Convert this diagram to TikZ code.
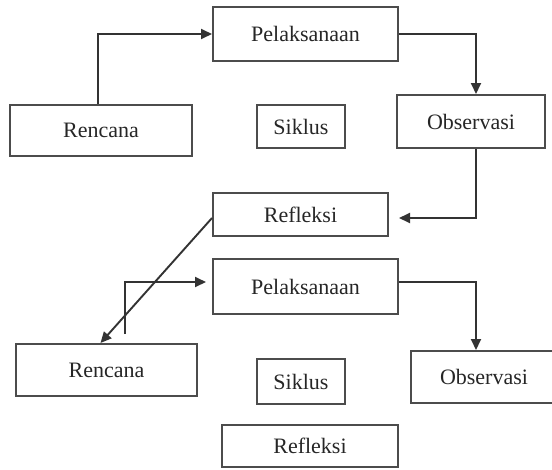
\documentclass[tikz,border=0pt]{standalone}
\usepackage{fontspec}
\setmainfont{Liberation Serif}
\usetikzlibrary{arrows.meta}
\begin{document}
\begin{tikzpicture}[x=1pt,y=-1pt,
  box/.style={draw=black!70, line width=2pt, inner sep=0pt, text=black!85,
    font=\fontsize{22}{25}\selectfont},
  arr/.style={draw=black!80, line width=1.9pt, -{Triangle[length=11pt,width=10pt]}}]
\useasboundingbox (0,0) rectangle (552,469);
\node[box, minimum width=185pt, minimum height=54pt] (p1) at (305.5,34) {Pelaksanaan};
\node[box, minimum width=182pt, minimum height=51pt] (r1) at (101,130.5) {Rencana};
\node[box, minimum width=88pt, minimum height=43pt] (s1) at (301,126.5) {Siklus};
\node[box, minimum width=148pt, minimum height=53pt] (o1) at (471,121.5) {Observasi};
\node[box, minimum width=175pt, minimum height=43pt] (f1) at (300.5,214.5) {Refleksi};
\node[box, minimum width=185pt, minimum height=55pt] (p2) at (305.5,286.5) {Pelaksanaan};
\node[box, minimum width=181pt, minimum height=52pt] (r2) at (106.5,370) {Rencana};
\node[box, minimum width=88pt, minimum height=45pt] (s2) at (301,381.5) {Siklus};
\node[box, minimum width=176pt, minimum height=42pt] (f2) at (310,446) {Refleksi};
\node[box, minimum width=146pt, minimum height=52pt] (o2) at (484,377) {Observasi};
\coordinate (c2) at (125,334);
\draw[arr] ([xshift=-3pt]r1.north) |- (p1.west);
\draw[arr] (p1.east) -| ([xshift=5pt]o1.north);
\draw[arr] ([xshift=5pt]o1.south) |- ([xshift=10pt,yshift=-3.5pt]f1.east);
\draw[arr] ([yshift=-3.5pt]f1.west) -- ([xshift=-6pt]r2.north);
\draw[arr] (c2) |- ([xshift=-6pt,yshift=4.5pt]p2.west);
\draw[arr] ([yshift=4.5pt]p2.east) -| ([xshift=-8pt]o2.north);
\end{tikzpicture}
\end{document}
